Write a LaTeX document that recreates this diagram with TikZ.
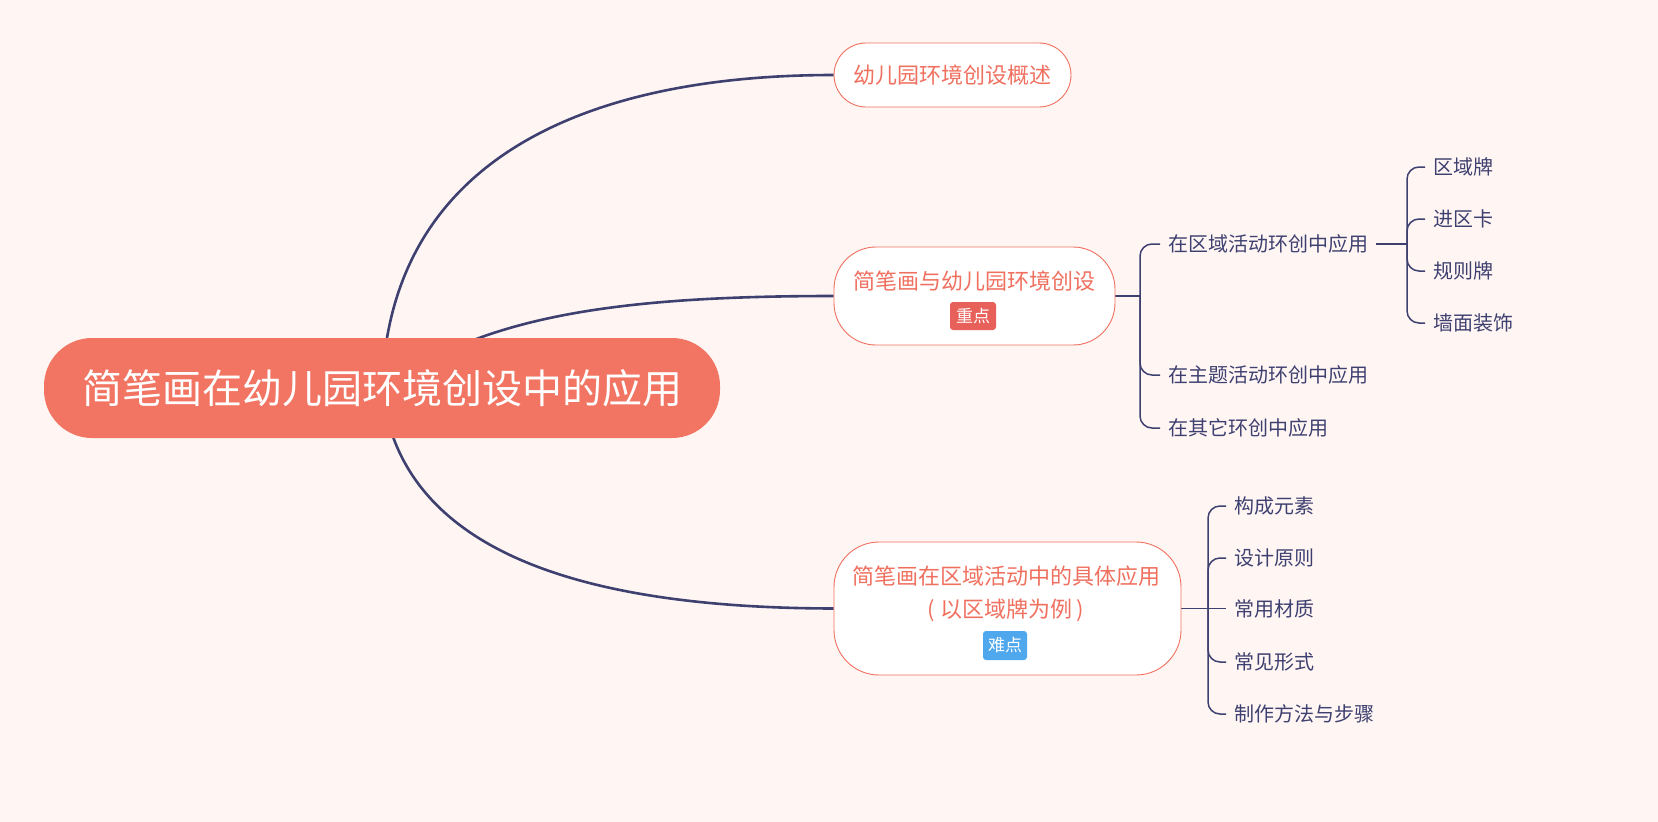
\documentclass[tikz,border=0pt]{standalone}
\usepackage{fontspec}
\setmainfont{Noto Sans CJK SC}
\definecolor{bgpink}{HTML}{FFF6F4}
\definecolor{rootred}{HTML}{F27462}
\definecolor{topicred}{HTML}{F0705F}
\definecolor{tagred}{HTML}{E8605A}
\definecolor{tagblue}{HTML}{4FA8EE}
\definecolor{linenavy}{HTML}{3E4070}
\pgfdeclarelayer{bg}
\pgfdeclarelayer{edges}
\pgfsetlayers{bg,edges,main}
\tikzset{
  mainline/.style={draw=linenavy,line width=2.6pt},
  subline/.style={draw=linenavy,line width=1.5pt,rounded corners=12pt},
  topic/.style={draw=topicred,line width=0.9pt,fill=white,text=topicred,
    font=\fontsize{22}{33}\selectfont},
  leaf/.style={anchor=west,inner xsep=8pt,text=linenavy,
    font=\fontsize{20}{24}\selectfont},
  tag/.style={rounded corners=3pt,text=white,minimum width=46pt,
    minimum height=28pt,inner sep=0pt,font=\fontsize{17}{20}\selectfont},
}
\begin{document}
\begin{tikzpicture}[x=1pt,y=-1pt]
\begin{pgfonlayer}{bg}
\fill[bgpink] (0,0) rectangle (1658,822);
\end{pgfonlayer}
\useasboundingbox (0,0) rectangle (1658,822);

% root
\node[fill=rootred,rounded corners=48pt,minimum width=676pt,minimum height=100pt,
  text=white,font=\fontsize{40}{48}\selectfont] (root) at (382,388)
  {简笔画在幼儿园环境创设中的应用};

% topics
\node[topic,rounded corners=32pt,minimum width=237pt,minimum height=64pt]
  (gaishu) at (952.5,75) {幼儿园环境创设概述};

\node[topic,rounded corners=42pt,minimum width=281pt,minimum height=98pt]
  (yuyuan) at (974.5,296) {};
\node[text=topicred,font=\fontsize{22}{26}\selectfont] (yuyuan-t) at (974,281)
  {简笔画与幼儿园环境创设};
\node[tag,fill=tagred] (zhongdian) at (973,316) {重点};

\node[topic,rounded corners=45pt,minimum width=347pt,minimum height=133pt]
  (quyu) at (1007.5,608.5) {};
\node[text=topicred,font=\fontsize{22}{33}\selectfont,align=center] (quyu-t)
  at (1006,593.5) {简笔画在区域活动中的具体应用\\( 以区域牌为例 )};
\node[tag,fill=tagblue,minimum width=44pt,minimum height=29pt] (nandian)
  at (1005,645.5) {难点};

% leaves
\coordinate (jy) at (1140,296);
\node[leaf] (hj1) at (1160,244) {在区域活动环创中应用};
\node[leaf] (hj2) at (1160,375) {在主题活动环创中应用};
\node[leaf] (hj3) at (1160,428) {在其它环创中应用};

\coordinate (jhj) at (1407,244);
\node[leaf] (p1) at (1425,167) {区域牌};
\node[leaf] (p2) at (1425,219) {进区卡};
\node[leaf] (p3) at (1425,271) {规则牌};
\node[leaf] (p4) at (1425,323) {墙面装饰};

\coordinate (jq) at (1208,608.5);
\node[leaf] (y1) at (1226,506) {构成元素};
\node[leaf] (y2) at (1226,558) {设计原则};
\node[leaf] (y3) at (1226,608.5) {常用材质};
\node[leaf] (y4) at (1226,662) {常见形式};
\node[leaf] (y5) at (1226,714) {制作方法与步骤};

\begin{pgfonlayer}{edges}
\draw[mainline] (root.center) .. controls (390,150) and (600,75) .. (gaishu.west);
\draw[mainline] (root.center) .. controls (480,320) and (600,296) .. (yuyuan.west);
\draw[mainline] (root.center) .. controls (400,560) and (600,608) .. (quyu.west);

\draw[subline] (yuyuan.east) -- (jy);
\draw[subline] (jy) |- (hj1.west);
\draw[subline] (jy) |- (hj2.west);
\draw[subline] (jy) |- (hj3.west);

\draw[subline] (hj1.east) -- (jhj);
\draw[subline] (jhj) |- (p1.west);
\draw[subline] (jhj) |- (p2.west);
\draw[subline] (jhj) |- (p3.west);
\draw[subline] (jhj) |- (p4.west);

\draw[subline] (quyu.east) -- (jq);
\draw[subline] (jq) |- (y1.west);
\draw[subline] (jq) |- (y2.west);
\draw[subline] (jq) -- (y3.west);
\draw[subline] (jq) |- (y4.west);
\draw[subline] (jq) |- (y5.west);
\end{pgfonlayer}
\end{tikzpicture}
\end{document}
